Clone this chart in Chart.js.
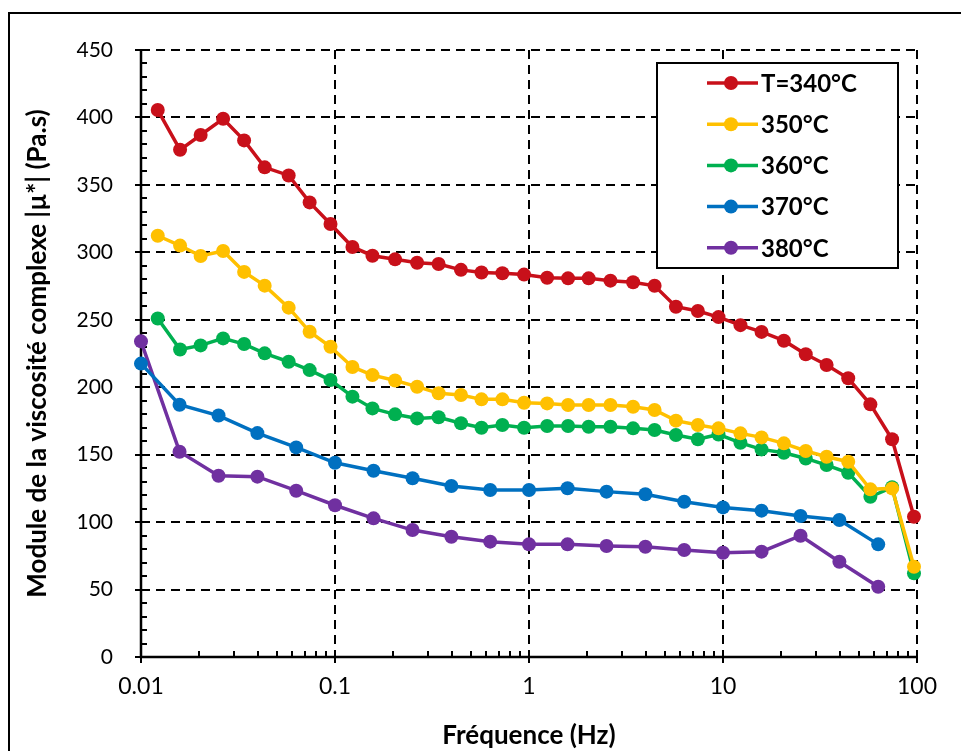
<!DOCTYPE html>
<html><head><meta charset="utf-8">
<script src="https://cdn.jsdelivr.net/npm/chart.js@4/dist/chart.umd.min.js"></script>
<style>html,body{margin:0;padding:0;background:#fff;} #wrap{position:relative;width:961px;height:751px;}</style>
</head><body><div id="wrap"><canvas id="c" width="961" height="751"></canvas></div>
<script>
// ---- data ----
const seriesLabels = ['T=340°C', '350°C', '360°C', '370°C', '380°C'];
const seriesColors = ['#C8101A', '#FFC000', '#00B050', '#0070C0', '#7030A0'];
const freqA = [0.0122, 0.0159, 0.0203, 0.0265, 0.0340, 0.0434, 0.0577, 0.0740, 0.0948, 0.123, 0.156, 0.204, 0.265, 0.342, 0.446, 0.569, 0.729, 0.943, 1.24, 1.59, 2.03, 2.63, 3.44, 4.44, 5.72, 7.42, 9.48, 12.3, 15.8, 20.6, 26.7, 34.2, 44.2, 57.5, 74.4, 96.5];
const freqB = [0.01, 0.0158, 0.0251, 0.0398, 0.0631, 0.1, 0.158, 0.251, 0.398, 0.631, 1, 1.58, 2.51, 3.98, 6.31, 10, 15.8, 25.1, 39.8, 63.1];
const t340 = [405.5, 376, 387, 399, 383, 363, 357, 337, 321, 304, 297.5, 294.8, 292.3, 291.3, 287, 285, 284.5, 283.5, 281.2, 280.7, 280.7, 279, 277.8, 275.2, 259.7, 256.5, 252, 246, 241, 234.5, 224.4, 216.5, 206.6, 187.3, 161.4, 104];
const t350 = [312.3, 305, 297.3, 301, 285.5, 275.3, 259, 241.1, 230, 215, 209, 205, 200.4, 195.5, 194.2, 191, 191, 188.5, 188, 186.8, 186.8, 186.8, 185.5, 183.1, 175.2, 172, 169.5, 165.8, 162.8, 158.4, 152.7, 148.5, 144.8, 124.3, 125, 66.9];
const t360 = [251, 228, 231, 236.2, 232, 225.1, 218.9, 212.7, 205.3, 193, 184.3, 179.9, 176.9, 177.7, 173.3, 170, 172, 170, 171.2, 171.2, 170.7, 170.7, 169.5, 168.3, 164.6, 161.4, 165, 158.8, 153.9, 151.4, 147.2, 142.3, 136.6, 118.8, 125.8, 62];
const t370 = [217.5, 187, 179, 166, 155.4, 144, 138.1, 132.5, 126.8, 123.8, 123.8, 125.1, 122.6, 120.6, 115.1, 110.9, 108.5, 104.5, 101.6, 83.5];
const t380 = [234, 152.2, 134.4, 133.7, 123.3, 112.5, 102.8, 94.1, 89.2, 85.5, 83.5, 83.5, 82.3, 81.7, 79.3, 77.3, 78.1, 89.9, 70.6, 52.1];
const xTickValues = [0.01, 0.1, 1, 10, 100];
const xTickLabels = ['0.01', '0.1', '1', '10', '100'];
const xTitle = 'Fréquence (Hz)';
const yTitle = 'Module de la viscosité complexe |µ*| (Pa.s)';

const seriesX = [freqA, freqA, freqA, freqB, freqB];
const seriesY = [t340, t350, t360, t370, t380];

const FONT = 'Lato, "Open Sans", sans-serif';

const datasets = seriesLabels.map((lab, i) => ({
  label: lab,
  data: seriesX[i].map((x, j) => ({x: x, y: seriesY[i][j]})),
  borderColor: seriesColors[i],
  backgroundColor: seriesColors[i],
  pointBackgroundColor: seriesColors[i],
  pointBorderColor: seriesColors[i],
  borderWidth: 3.5,
  pointRadius: 7,
  pointBorderWidth: 0,
  tension: 0,
  clip: false
}));

const decorPlugin = {
  id: 'decor',
  beforeDraw(chart) {
    const ctx = chart.ctx;
    ctx.save();
    ctx.strokeStyle = '#000';
    ctx.lineWidth = 2;
    ctx.beginPath();
    ctx.moveTo(9, 760);
    ctx.lineTo(9, 13);
    ctx.lineTo(970, 13);
    ctx.stroke();
    ctx.restore();
  },
  beforeDatasetsDraw(chart) {
    const ctx = chart.ctx;
    const xs = chart.scales.x, ys = chart.scales.y;
    const a = chart.chartArea;
    ctx.save();
    ctx.strokeStyle = '#000';
    ctx.lineWidth = 2.5;
    ctx.setLineDash([]);
    ctx.beginPath();
    ctx.moveTo(a.left, a.top);
    ctx.lineTo(a.left, a.bottom);
    ctx.lineTo(a.right, a.bottom);
    ctx.stroke();
    ctx.lineWidth = 2;
    ctx.beginPath();
    for (let d = 0; d < xTickValues.length; d++) {
      const px = Math.round(xs.getPixelForValue(xTickValues[d]));
      ctx.moveTo(px, a.bottom - 6); ctx.lineTo(px, a.bottom + 6);
      if (d < xTickValues.length - 1) {
        for (let k = 2; k <= 9; k++) {
          const mx = Math.round(xs.getPixelForValue(xTickValues[d] * k));
          ctx.moveTo(mx, a.bottom); ctx.lineTo(mx, a.bottom - 6);
        }
      }
    }
    for (let v = 0; v <= ys.max; v += 10) {
      const py = Math.round(ys.getPixelForValue(v));
      if (v % 50 === 0) { ctx.moveTo(a.left - 6, py); ctx.lineTo(a.left + 6, py); }
      else { ctx.moveTo(a.left, py); ctx.lineTo(a.left + 6, py); }
    }
    ctx.stroke();
    ctx.restore();
  },
  afterDraw(chart) {
    const ctx = chart.ctx;
    ctx.save();
    const bx = 657, by = 63, bw = 241, bh = 205;
    ctx.fillStyle = '#fff';
    ctx.fillRect(bx, by, bw, bh);
    ctx.strokeStyle = '#000';
    ctx.lineWidth = 2;
    ctx.strokeRect(bx, by, bw, bh);
    chart.data.datasets.forEach((ds, i) => {
      const y = 83 + i * 41.2;
      ctx.strokeStyle = ds.borderColor;
      ctx.lineWidth = 3.5;
      ctx.beginPath(); ctx.moveTo(707, y); ctx.lineTo(758, y); ctx.stroke();
      ctx.fillStyle = ds.borderColor;
      ctx.beginPath(); ctx.arc(731, y, 7, 0, Math.PI * 2); ctx.fill();
      ctx.fillStyle = '#000';
      ctx.font = 'bold 24px ' + FONT;
      ctx.textBaseline = 'middle';
      ctx.textAlign = 'left';
      ctx.fillText(ds.label, 761, y + 1);
    });
    ctx.restore();
  }
};

new Chart(document.getElementById('c'), {
  type: 'line',
  data: { datasets: datasets },
  plugins: [decorPlugin],
  options: {
    responsive: false,
    animation: false,
    devicePixelRatio: 1,
    layout: { padding: { left: 22, top: 50, right: 44, bottom: 0 } },
    plugins: { legend: { display: false }, tooltip: { enabled: false } },
    scales: {
      x: {
        type: 'logarithmic',
        min: 0.01, max: 100,
        afterBuildTicks(scale) { scale.ticks = xTickValues.map(v => ({value: v})); },
        afterFit(scale) { scale.height = 94; },
        ticks: {
          autoSkip: false, maxRotation: 0, minRotation: 0, padding: 16,
          color: '#000', font: { family: FONT, size: 23 },
          callback: (v) => { const i = xTickValues.findIndex(t => Math.abs(Math.log10(t) - Math.log10(v)) < 1e-6); return i >= 0 ? xTickLabels[i] : ''; }
        },
        grid: { color: '#000', lineWidth: 2, drawTicks: false },
        border: { display: false, dash: [9, 6] },
        title: { display: true, text: xTitle, color: '#000', font: { family: FONT, size: 26, weight: 'bold' }, padding: { top: 0, bottom: 0 } }
      },
      y: {
        type: 'linear',
        min: 0, max: 450,
        afterFit(scale) { scale.width = 119; },
        ticks: { stepSize: 50, padding: 28, color: '#000', font: { family: FONT, size: 21 } },
        grid: { color: '#000', lineWidth: 2, drawTicks: false },
        border: { display: false, dash: [9, 6] },
        title: { display: true, text: yTitle, color: '#000', font: { family: FONT, size: 26, weight: 'bold' }, padding: { top: 0, bottom: 0 } }
      }
    }
  }
});
</script>
</body></html>
